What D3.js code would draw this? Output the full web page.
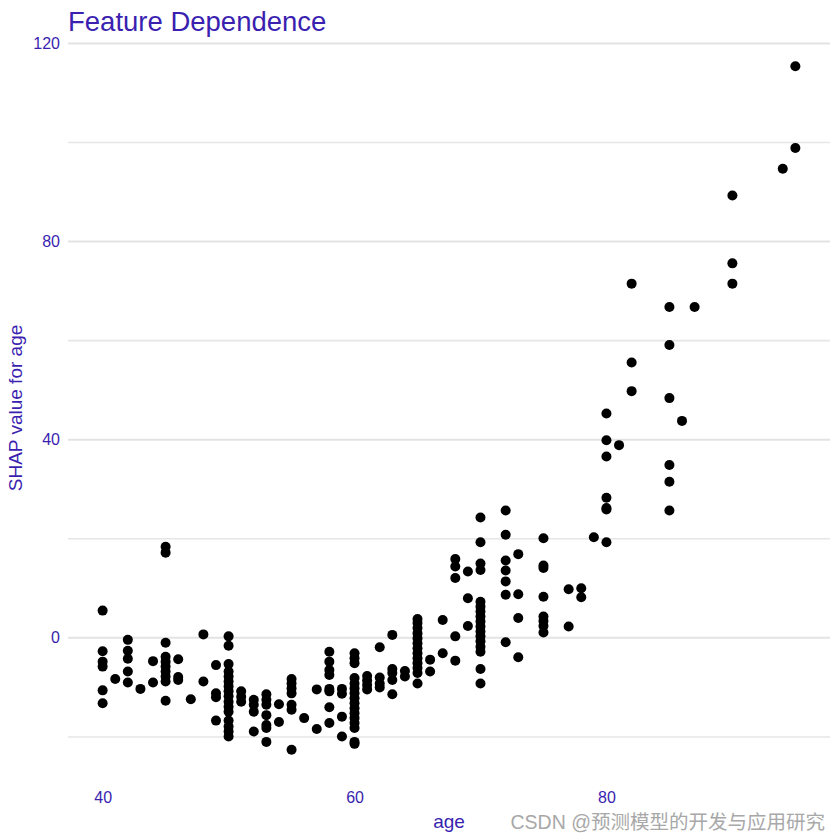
<!DOCTYPE html>
<html><head><meta charset="utf-8">
<script src="https://cdn.jsdelivr.net/npm/d3@7"></script>
<style>body{margin:0;background:#fff}svg{display:block}</style>
</head><body>
<script>
// age values (x) and SHAP values (y), paired by index
const ages = [
40,40,40,40,40,40, 41, 42,42,42,42,42, 43, 44,44,
45,45,45,45,45,45,45,45,45,45, 46,46,46, 47, 48,48, 49,49,49,49,
50,50,50,50,50,50,50,50,50,50,50,50,50,50,50,50,
51,51,51, 52,52,52,52, 53,53,53,53,53,53,53, 54,54,
55,55,55,55,55,55,55, 56, 57,57, 58,58,58,58,58,58,58,58, 59,59,59,59,
60,60,60,60,60,60,60,60,60,60,60,60,60,60,60,60,
61,61,61,61, 62,62,62,62, 63,63,63,63,63, 64,64,
65,65,65,65,65,65,65,65,65,65,65,65,65, 66,66, 67,67,
68,68,68,68,68, 69,69,69,
70,70,70,70,70,70,70,70,70,70,70,70,70,70,70,70,70,
72,72,72,72,72,72,72, 73,73,73,73, 75,75,75,75,75,75,75,75,
77,77, 78,78, 79, 80,80,80,80,80,80,80, 81, 82,82,82,
85,85,85,85,85,85, 86, 87, 90,90,90, 94, 95,95
];
const shapValues = [
5.5,-2.7,-4.8,-5.8,-10.6,-13.2, -8.3, -0.4,-2.6,-4.2,-6.8,-9.0, -10.3, -4.7,-9.0,
18.4,17.2,-1.0,-3.8,-4.8,-5.8,-6.8,-7.8,-8.8,-12.7, -4.3,-7.9,-8.5, -12.4, 0.7,-8.8, -5.5,-11.2,-12.0,-16.7,
0.3,-1.6,-5.3,-6.8,-7.8,-8.8,-9.8,-10.8,-11.8,-12.9,-13.9,-14.9,-16.7,-17.9,-18.9,-19.9,
-10.8,-11.9,-12.9, -12.5,-13.5,-14.9,-18.9, -11.4,-12.5,-13.5,-15.6,-17.6,-18.2,-21.0, -13.4,-17.0,
-8.3,-9.2,-10.2,-11.2,-13.5,-14.5,-22.6, -16.2, -10.4,-18.4, -2.8,-4.8,-6.5,-7.5,-10.3,-10.8,-14.0,-17.2, -10.3,-11.3,-15.9,-19.9,
-3.1,-4.1,-5.1,-8.1,-9.2,-10.2,-11.2,-12.2,-13.2,-14.2,-15.2,-16.2,-17.2,-18.2,-21.0,-21.4,
-7.7,-8.6,-9.5,-10.4, -1.9,-8.0,-9.2,-10.0, 0.6,-6.3,-7.1,-8.5,-11.4, -6.7,-7.8,
3.8,3.0,2.0,0.9,-0.1,-1.1,-2.1,-3.1,-4.1,-5.1,-6.1,-7.1,-9.2, -4.4,-6.8, 3.6,-3.1,
15.9,14.4,12.1,0.3,-4.6, 13.4,8.0,2.4,
24.3,19.3,15.0,13.7,7.3,6.3,5.3,4.3,3.3,2.3,1.3,0.3,-0.7,-1.8,-2.8,-6.3,-9.2,
25.7,20.8,15.6,13.6,11.4,8.7,-0.9, 16.9,8.8,4.0,-3.9, 20.1,14.6,14.1,8.3,4.3,3.4,2.4,1.1,
9.8,2.3, 10.0,8.2, 20.3, 45.3,39.9,36.6,28.3,26.2,25.9,19.3, 38.9, 71.5,55.6,49.8,
66.8,59.1,48.4,34.9,31.5,25.7, 43.8, 66.8, 89.3,75.6,71.5, 94.7, 115.4,98.9
];
const xTicks = [40, 60, 80];
const yMajorTicks = [0, 40, 80, 120];
const yMinorTicks = [-20, 20, 60, 100];

const W = 840, H = 840;
const mLeft = 68, mRight = 830, mTop = 32, mBottom = 784;
const txtColor = "#3a1fb0";

const svg = d3.select("body").append("svg").attr("width", W).attr("height", H)
  .style("font-family", "'Liberation Sans', Arial, sans-serif");

const xExt = d3.extent(ages), yExt = d3.extent(shapValues);
const xPad = (xExt[1]-xExt[0])*0.05, yPad = (yExt[1]-yExt[0])*0.05;
const x = d3.scaleLinear().domain([xExt[0]-xPad, xExt[1]+xPad]).range([mLeft, mRight]);
const y = d3.scaleLinear().domain([yExt[0]-yPad, yExt[1]+yPad]).range([mBottom, mTop]);

// grid
svg.append("g").selectAll("line").data(yMinorTicks).join("line")
  .attr("x1", mLeft).attr("x2", mRight)
  .attr("y1", d => y(d)).attr("y2", d => y(d))
  .attr("stroke", "#e6e6e6").attr("stroke-width", 1.6);
svg.append("g").selectAll("line").data(yMajorTicks).join("line")
  .attr("x1", mLeft).attr("x2", mRight)
  .attr("y1", d => y(d)).attr("y2", d => y(d))
  .attr("stroke", "#e3e3e3").attr("stroke-width", 2);

// y axis labels
const yAxis = svg.append("g").attr("transform", `translate(${mLeft},0)`)
  .call(d3.axisLeft(y).tickValues(yMajorTicks).tickSize(0).tickPadding(8));
yAxis.select(".domain").remove();
yAxis.selectAll("text").attr("fill", txtColor).style("font-size", "16px");

// x axis labels
const xAxis = svg.append("g").attr("transform", `translate(0,${mBottom})`)
  .call(d3.axisBottom(x).tickValues(xTicks).tickSize(0).tickPadding(8));
xAxis.select(".domain").remove();
xAxis.selectAll("text").attr("fill", txtColor).style("font-size", "16px");

// points
svg.append("g").selectAll("circle").data(ages.map((a, i) => [a, shapValues[i]])).join("circle")
  .attr("cx", d => x(d[0])).attr("cy", d => y(d[1])).attr("r", 5).attr("fill", "#000");

// titles
svg.append("text").attr("x", 68).attr("y", 31).text("Feature Dependence")
  .attr("fill", txtColor).style("font-size", "27.5px");
svg.append("text").attr("x", (mLeft+mRight)/2).attr("y", 828).attr("text-anchor", "middle")
  .text("age").attr("fill", txtColor).style("font-size", "19px");
svg.append("text").attr("transform", `translate(22,${(mTop+mBottom)/2}) rotate(-90)`)
  .attr("text-anchor", "middle").text("SHAP value for age")
  .attr("fill", txtColor).style("font-size", "19px");

// watermark
svg.append("text").attr("x", 825).attr("y", 829).attr("text-anchor", "end")
  .text("CSDN @预测模型的开发与应用研究")
  .attr("fill", "#a8a8a8").style("font-size", "19.5px")
  .style("font-family", "'Liberation Sans', 'Noto Sans CJK SC', sans-serif");
</script>
</body></html>
